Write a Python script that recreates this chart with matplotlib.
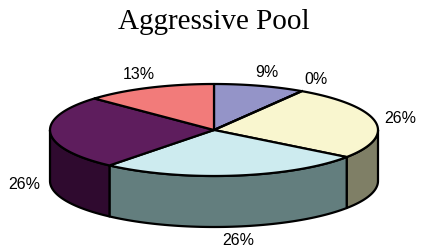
import numpy as np
import matplotlib
matplotlib.use('Agg')
import matplotlib.pyplot as plt
from matplotlib.patches import Polygon

# slice values, clockwise from 12 o'clock
labels = ['9%', '0%', '26%', '26%', '26%', '13%']
values = [9, 0, 26, 26, 26, 13]
top_colors = ['#9494c8', '#993366', '#f9f6cf', '#cdebef', '#5e1d5d', '#f27b7a']
side_colors = ['#4a4a64', '#4c1933', '#7f7f66', '#637e7e', '#2f0a2f', '#793d3d']

# pie geometry in pixels
cx, cy = 214, 130
rx, ry = 164, 46
depth = 51
lrx, lry = 190, 60

fig = plt.figure(figsize=(4.22, 2.48), dpi=100)
ax = fig.add_axes([0, 0, 1, 1])
ax.set_xlim(0, 422)
ax.set_ylim(248, 0)
ax.axis('off')

fracs = np.array(values) / np.sum(values)
ends = 90 - 360 * np.cumsum(fracs)
starts = np.concatenate([[90], ends[:-1]])


def pt(deg, dy=0):
    t = np.radians(deg)
    return cx + rx * np.cos(t), cy - ry * np.sin(t) + dy


# side walls (front half only, angles between -180 and 0)
for a0, a1, sc in zip(starts, ends, side_colors):
    lo, hi = a1, a0
    for shift in (0, -360):
        s_lo, s_hi = max(lo + shift, -180), min(hi + shift, 0)
        if s_hi - s_lo <= 0.01:
            continue
        th = np.linspace(s_hi, s_lo, 60)
        top = [pt(t) for t in th]
        bot = [pt(t, depth) for t in th[::-1]]
        ax.add_patch(Polygon(top + bot, closed=True, facecolor=sc,
                             edgecolor='black', linewidth=1.6, joinstyle='round'))

# top faces
for a0, a1, tc in zip(starts, ends, top_colors):
    if a0 - a1 < 0.01:
        continue
    th = np.linspace(a0, a1, 80)
    pts = [(cx, cy)] + [pt(t) for t in th]
    ax.add_patch(Polygon(pts, closed=True, facecolor=tc,
                         edgecolor='black', linewidth=1.6, joinstyle='round'))

# 0% slice still leaves an edge line from the centre
for a0, a1 in zip(starts, ends):
    if a0 - a1 < 0.01:
        x, y = pt(a0)
        ax.plot([cx, x], [cy, y], color='black', lw=1.6)

# labels
mids = (starts + ends) / 2
for lab, m in zip(labels, mids):
    t = np.radians(m)
    x = cx + lrx * np.cos(t)
    y = cy - lry * np.sin(t)
    if np.sin(t) < 0:
        y += depth
    ax.text(x, y, lab, ha='center', va='center', fontsize=11.5,
            family='Liberation Sans', color='black')

ax.text(214, 22, 'Aggressive Pool', ha='center', va='center',
        fontsize=21, family='Liberation Serif', color='black')

fig.savefig('out.png', dpi=100)
